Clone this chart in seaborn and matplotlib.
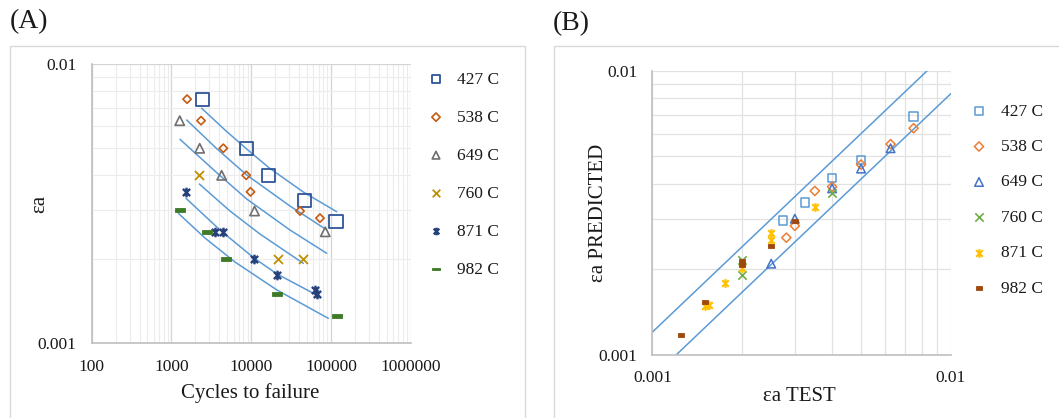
import matplotlib
matplotlib.use('Agg')
import matplotlib.pyplot as plt
from matplotlib.path import Path
from matplotlib.patches import Rectangle
from matplotlib.ticker import LogLocator, NullFormatter, FixedLocator, FuncFormatter
import numpy as np
import pandas as pd
import seaborn as sns

# ---- data, panel A: strain amplitude vs cycles to failure ----
temps = ['427 C', '538 C', '649 C', '760 C', '871 C', '982 C']

n_427 = [2440, 8660, 16630, 46400, 115500]
e_427 = [0.0075, 0.005, 0.004, 0.00324, 0.00274]
n_538 = [1570, 2350, 4470, 8660, 9810, 40980, 72870]
e_538 = [0.0075, 0.00628, 0.005, 0.004, 0.00349, 0.00298, 0.00281]
n_649 = [1270, 2260, 4260, 11010, 84900]
e_649 = [0.00628, 0.005, 0.004, 0.00298, 0.00251]
n_760 = [2220, 21540, 44260]
e_760 = [0.004, 0.002, 0.002]
n_871 = [1510, 3480, 4430, 10800, 21130, 63690, 66200]
e_871 = [0.0035, 0.0025, 0.0025, 0.002, 0.00175, 0.00155, 0.0015]
n_982 = [1280, 2770, 4870, 21340, 120000]
e_982 = [0.003, 0.0025, 0.002, 0.0015, 0.00125]

# fitted curves
fit_n_427 = [2395, 4694, 8782, 16866, 45010, 118070]
fit_e_427 = [0.006956, 0.005814, 0.004970, 0.004249, 0.003486, 0.002962]
fit_n_538 = [1553, 3619, 8782, 30650, 85930]
fit_e_538 = [0.006315, 0.005012, 0.004011, 0.003105, 0.002563]
fit_n_649 = [1280, 3619, 8782, 30650, 88430]
fit_e_649 = [0.005384, 0.004111, 0.003290, 0.002547, 0.002102]
fit_n_760 = [2235, 5424, 12890, 45010]
fit_e_760 = [0.003724, 0.002979, 0.002464, 0.001935]
fit_n_871 = [1522, 4063, 10840, 21060, 66280]
fit_e_871 = [0.003309, 0.002547, 0.002021, 0.001772, 0.001489]
fit_n_982 = [1219, 2635, 6264, 21060, 92640]
fit_e_982 = [0.002924, 0.002384, 0.001956, 0.001552, 0.001229]

# ---- data, panel B: predicted vs test strain ----
t_427 = [0.0075, 0.005, 0.004, 0.00324, 0.00274]
p_427 = [0.00689, 0.00484, 0.00419, 0.00343, 0.00297]
t_538 = [0.0075, 0.00628, 0.005, 0.004, 0.0035, 0.003, 0.00281]
p_538 = [0.00627, 0.00551, 0.00467, 0.0039, 0.00377, 0.00284, 0.00258]
t_649 = [0.00628, 0.005, 0.004, 0.003, 0.0025]
p_649 = [0.00533, 0.00452, 0.00385, 0.00301, 0.00209]
t_760 = [0.004, 0.002, 0.002]
p_760 = [0.00371, 0.00216, 0.00191]
t_871 = [0.0035, 0.0025, 0.0025, 0.002, 0.00175, 0.00155, 0.0015]
p_871 = [0.00331, 0.00267, 0.00253, 0.00201, 0.00178, 0.00149, 0.00148]
t_982 = [0.003, 0.0025, 0.002, 0.002, 0.0015, 0.00125]
p_982 = [0.00296, 0.00242, 0.00213, 0.00207, 0.00153, 0.00117]

band_x = [0.001, 0.01]
band_hi = [0.0012, 0.012]
band_lo = [0.00083, 0.0083]

xticks_a = [100, 1000, 10000, 100000, 1000000]
yticks_a = [0.001, 0.01]
ticks_b = [0.001, 0.01]

# ---- styles ----
sns.set_style('white')
plt.rcParams['font.family'] = ['Liberation Serif', 'DejaVu Serif']

star = Path([(0, -1), (0, 1), (-0.75, -0.75), (0.75, 0.75), (-0.75, 0.75), (0.75, -0.75)],
            [Path.MOVETO, Path.LINETO, Path.MOVETO, Path.LINETO, Path.MOVETO, Path.LINETO])
dash_a = Path([(-1, -0.36), (1, -0.36), (1, 0.36), (-1, 0.36), (-1, -0.36)],
              [Path.MOVETO, Path.LINETO, Path.LINETO, Path.LINETO, Path.CLOSEPOLY])
dash_b = Path([(-1, -0.6), (1, -0.6), (1, 0.6), (-1, 0.6), (-1, -0.6)],
              [Path.MOVETO, Path.LINETO, Path.LINETO, Path.LINETO, Path.CLOSEPOLY])

colors_a = ['#2F5597', '#C55A11', '#6F6F6F', '#BF9000', '#25407A', '#3F7A26']
colors_b = ['#5B9BD5', '#ED7D31', '#4472C4', '#70AD47', '#FFC000', '#9E480E']
fit_color = '#5B9BD5'
axis_gray = '#BFBFBF'
txt = '#1a1a1a'

# (marker, size, fill mode, edge width) per series
mk_a = [('s', 90, 'open', 1.3), ('D', 18, 'open', 1.2), ('^', 45, 'open', 1.2),
        ('x', 42, 'line', 1.3), (star, 48, 'line', 1.7), (dash_a, 55, 'solid', 0.6)]
mk_b = [('s', 38, 'open', 1.1), ('D', 22, 'open', 1.1), ('^', 38, 'open', 1.1),
        ('x', 36, 'line', 1.2), (star, 40, 'line', 1.5), (dash_b, 20, 'solid', 0.6)]

fig = plt.figure(figsize=(10.59, 4.18), dpi=100)
ax_a = fig.add_axes([0.0866, 0.1787, 0.3012, 0.6675])
ax_b = fig.add_axes([0.6161, 0.1519, 0.2818, 0.679])

# chart area frames
fig.patches.append(Rectangle((10 / 1059, -0.1), 515 / 1059, 1.1 - 46 / 418, transform=fig.transFigure,
                             fill=False, edgecolor='#D9D9D9', lw=1.0))
fig.patches.append(Rectangle((554 / 1059, -0.1), 520 / 1059, 1.1 - 46 / 418, transform=fig.transFigure,
                             fill=False, edgecolor='#D9D9D9', lw=1.0))

fig.text(10 / 1059, 1 - 22 / 418, '(A)', fontsize=20, va='center', ha='left', color=txt)
fig.text(553 / 1059, 1 - 24 / 418, '(B)', fontsize=20, va='center', ha='left', color=txt)


def style_axis(ax):
    ax.set_xscale('log')
    ax.set_yscale('log')
    for axis in (ax.xaxis, ax.yaxis):
        axis.set_minor_locator(LogLocator(base=10, subs=np.arange(2, 10), numticks=100))
        axis.set_minor_formatter(NullFormatter())
        axis.set_major_formatter(FuncFormatter(lambda v, _: f'{v:.0f}' if v >= 1 else f'{v:g}'))
    sns.despine(ax=ax)
    for s in ('left', 'bottom'):
        ax.spines[s].set_color(axis_gray)
        ax.spines[s].set_linewidth(1.2)
    ax.tick_params(which='major', direction='out', length=3.5, width=1.2, color=axis_gray,
                   labelsize=12.5, labelcolor=txt, pad=7.5)
    ax.tick_params(which='minor', length=0)


def scatter_series(ax, xs, ys, label, color, marker, size, mode, lw):
    df = pd.DataFrame({'x': xs, 'y': ys})
    face = 'none' if mode == 'open' else color
    sns.scatterplot(data=df, x='x', y='y', ax=ax, marker=marker, s=size,
                    facecolor=face, edgecolor=color,
                    linewidth=lw, label=label, legend=False, zorder=3)
    return ax.collections[-1]


# ---- panel A ----
style_axis(ax_a)
ax_a.set_xlim(100, 1000000)
ax_a.set_ylim(0.001, 0.01)
ax_a.xaxis.set_major_locator(FixedLocator(xticks_a))
ax_a.yaxis.set_major_locator(FixedLocator(yticks_a))
ax_a.grid(which='major', color='#D4D4D4', lw=0.9)
ax_a.grid(which='minor', color='#ECECEC', lw=0.8)

fits = [(fit_n_427, fit_e_427), (fit_n_538, fit_e_538), (fit_n_649, fit_e_649),
        (fit_n_760, fit_e_760), (fit_n_871, fit_e_871), (fit_n_982, fit_e_982)]
for fx, fy in fits:
    sns.lineplot(x=fx, y=fy, ax=ax_a, color=fit_color, lw=1.1, estimator=None, sort=False, zorder=2)

pts_a = [(n_427, e_427), (n_538, e_538), (n_649, e_649), (n_760, e_760), (n_871, e_871), (n_982, e_982)]
handles_a = []
for (xs, ys), lab, c, (m, s, f, lw) in zip(pts_a, temps, colors_a, mk_a):
    handles_a.append(scatter_series(ax_a, xs, ys, lab, c, m, s, f, lw))

ax_a.set_xlabel('Cycles to failure', fontsize=15, color=txt, va='center')
ax_a.xaxis.set_label_coords(0.496, -0.179)
ax_a.set_ylabel('εa', fontsize=15, color=txt, va='center')
ax_a.yaxis.set_label_coords(-0.162, 0.5)

leg_a = ax_a.legend(handles_a, temps, loc='upper left', bbox_to_anchor=(427.3 / 1059, 1 - 71.5 / 418),
                    bbox_transform=fig.transFigure, frameon=False, fontsize=12.5, handlelength=1.0,
                    handletextpad=0.71, labelspacing=1.26, borderpad=0, borderaxespad=0)
for h, sz in zip(leg_a.legend_handles, [34, 18, 30, 30, 30, 30]):
    h.set_sizes([sz])
for t in leg_a.get_texts():
    t.set_color(txt)

# ---- panel B ----
style_axis(ax_b)
ax_b.set_xlim(0.001, 0.01)
ax_b.set_ylim(0.001, 0.01)
ax_b.xaxis.set_major_locator(FixedLocator(ticks_b))
ax_b.yaxis.set_major_locator(FixedLocator(ticks_b))
ax_b.grid(which='both', color='#E2E2E2', lw=0.9)

sns.lineplot(x=band_x, y=band_hi, ax=ax_b, color=fit_color, lw=1.1, estimator=None, zorder=2)
sns.lineplot(x=band_x, y=band_lo, ax=ax_b, color=fit_color, lw=1.1, estimator=None, zorder=2)

pts_b = [(t_427, p_427), (t_538, p_538), (t_649, p_649), (t_760, p_760), (t_871, p_871), (t_982, p_982)]
handles_b = []
for (xs, ys), lab, c, (m, s, f, lw) in zip(pts_b, temps, colors_b, mk_b):
    handles_b.append(scatter_series(ax_b, xs, ys, lab, c, m, s, f, lw))

ax_b.set_xlabel('εa TEST', fontsize=15, color=txt, va='center')
ax_b.xaxis.set_label_coords(0.4916, -0.149)
ax_b.set_ylabel('εa PREDICTED', fontsize=15, color=txt, va='center')
ax_b.yaxis.set_label_coords(-0.182, 0.5)

leg_b = ax_b.legend(handles_b, temps, loc='upper left', bbox_to_anchor=(970.3 / 1059, 1 - 103.5 / 418),
                    bbox_transform=fig.transFigure, frameon=False, fontsize=12.5, handlelength=1.0,
                    handletextpad=0.76, labelspacing=1.11, borderpad=0, borderaxespad=0)
for t in leg_b.get_texts():
    t.set_color(txt)

fig.savefig('out.png', dpi=100)
